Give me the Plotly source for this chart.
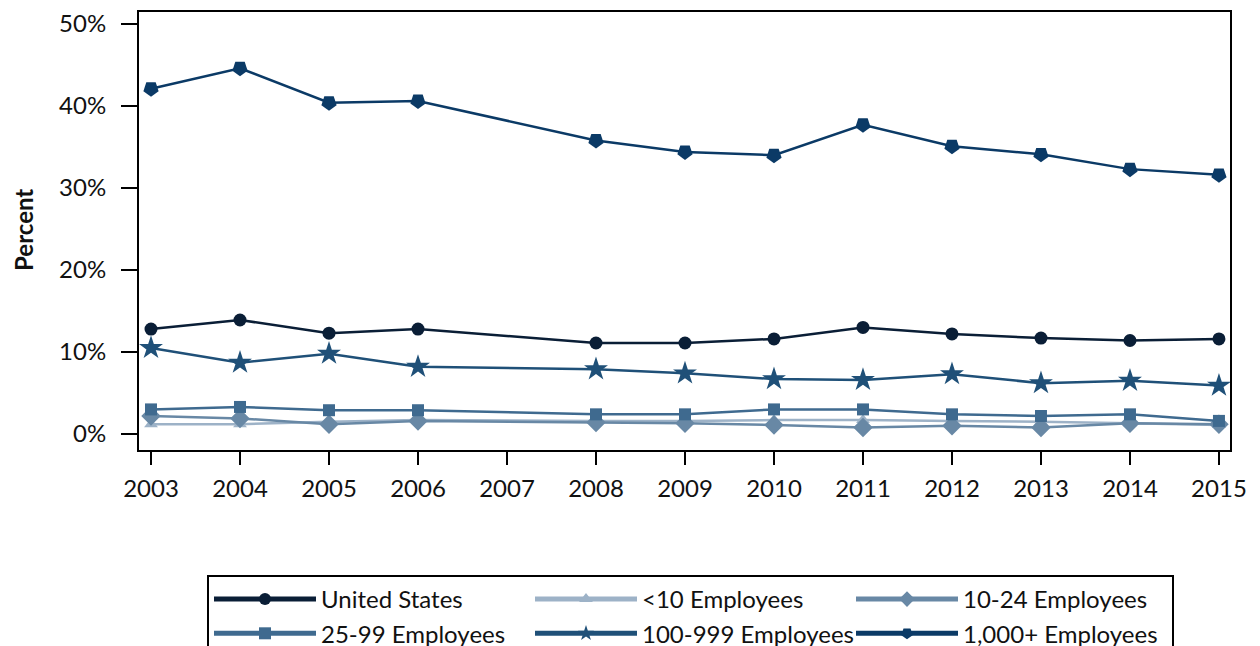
import plotly.graph_objects as go

years = [2003, 2004, 2005, 2006, 2008, 2009, 2010, 2011, 2012, 2013, 2014, 2015]
tick_years = [2003, 2004, 2005, 2006, 2007, 2008, 2009, 2010, 2011, 2012, 2013, 2014, 2015]

united_states = [12.8, 13.9, 12.3, 12.8, 11.1, 11.1, 11.6, 13.0, 12.2, 11.7, 11.4, 11.6]
lt10 = [1.2, 1.2, 1.5, 1.7, 1.6, 1.6, 1.7, 1.7, 1.6, 1.5, 1.3, 1.1]
e10_24 = [2.2, 1.9, 1.2, 1.6, 1.4, 1.3, 1.1, 0.8, 1.0, 0.8, 1.3, 1.2]
e25_99 = [3.0, 3.3, 2.9, 2.9, 2.4, 2.4, 3.0, 3.0, 2.4, 2.2, 2.4, 1.6]
e100_999 = [10.5, 8.7, 9.8, 8.2, 7.9, 7.4, 6.7, 6.6, 7.3, 6.2, 6.5, 5.9]
e1000 = [42.1, 44.6, 40.4, 40.6, 35.8, 34.4, 34.0, 37.7, 35.1, 34.1, 32.3, 31.6]

series = [
    ("United States", united_states, "#0a1e36", "circle", 13, 0),
    ("<10 Employees", lt10, "#9db2c7", "triangle-up", 12, 0),
    ("10-24 Employees", e10_24, "#6888a5", "diamond", 15, 0),
    ("25-99 Employees", e25_99, "#3f6a8f", "square", 12, 0),
    ("100-999 Employees", e100_999, "#1f5078", "star", 18, 0),
    ("1,000+ Employees", e1000, "#0b3a66", "pentagon", 16, 180),
]

fig = go.Figure()
for name, vals, color, sym, size, ang in series:
    fig.add_trace(go.Scatter(
        x=years, y=vals, name=name, mode="lines+markers",
        line=dict(color=color, width=2.5),
        marker=dict(symbol=sym, size=size, color=color, angle=ang),
    ))

font_family = "Lato, Open Sans, sans-serif"
fig.update_layout(
    width=1260, height=646,
    margin=dict(l=131, r=38, t=4, b=204),
    plot_bgcolor="white", paper_bgcolor="white",
    font=dict(family=font_family, size=24, color="#111111"),
    xaxis=dict(
        range=[2002.865, 2015.124], tickvals=tick_years,
        ticktext=[str(y) for y in tick_years],
        showgrid=False, zeroline=False, showline=True, linecolor="black",
        linewidth=2, mirror=True, ticks="outside", ticklen=13, tickwidth=2,
        tickcolor="black", tickfont=dict(size=24), automargin=False,
        ticklabelstandoff=3,
    ),
    yaxis=dict(
        range=[-1.95, 51.46], tickvals=[0, 10, 20, 30, 40, 50],
        ticktext=["0%", "10%", "20%", "30%", "40%", "50%"],
        showgrid=False, zeroline=False, showline=True, linecolor="black",
        linewidth=2, mirror=True, ticks="outside", ticklen=16, tickwidth=2,
        tickcolor="black", tickfont=dict(size=24), automargin=False,
        ticklabeloverflow="allow", ticklabelstandoff=10,
    ),
    legend=dict(
        orientation="h", xref="container", yref="container",
        x=199 / 1260, y=1 - 567 / 646, xanchor="left", yanchor="top",
        bordercolor="black", borderwidth=2, bgcolor="white",
        entrywidth=204, entrywidthmode="pixels", itemwidth=102,
        font=dict(size=24), itemsizing="constant",
        tracegroupgap=0,
    ),
    showlegend=True,
    annotations=[dict(
        text="<b>Percent</b>", xref="paper", yref="paper",
        x=-0.1065, y=0.502, xanchor="center", yanchor="middle",
        textangle=-90, showarrow=False, font=dict(size=24, color="#111111"),
    )],
)

fig.write_html("out.html")
